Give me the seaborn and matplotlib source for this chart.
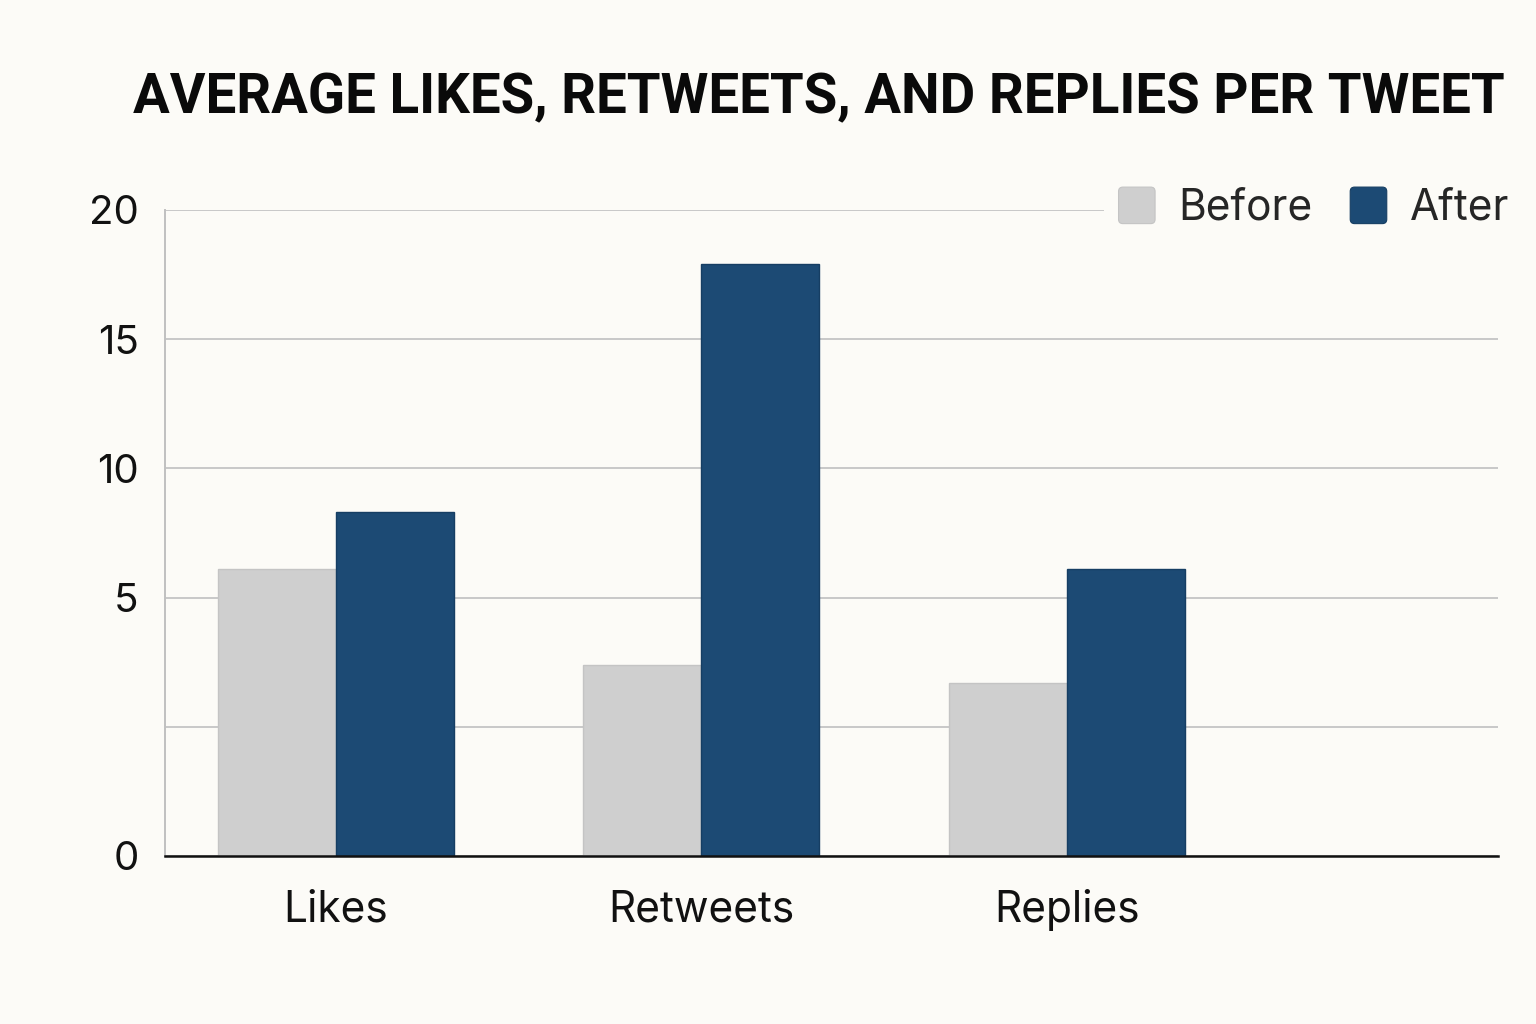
import matplotlib
matplotlib.use("Agg")
import matplotlib.pyplot as plt
import seaborn as sns
import pandas as pd
from matplotlib.patches import Patch, FancyBboxPatch
from matplotlib.legend_handler import HandlerPatch

categories = ["Likes", "Retweets", "Replies"]
before_values = [11.1, 7.4, 6.7]
after_values = [13.3, 22.9, 11.1]
series_names = ["Before", "After"]
ytick_values = [0, 5, 10, 15, 20, 25]
ytick_labels = ["0", "", "5", "10", "15", "20"]
title = "AVERAGE LIKES, RETWEETS, AND REPLIES PER TWEET"

bg = "#FCFBF7"
colors = {"Before": "#CFCFCF", "After": "#1C4A74"}
edges = {"Before": "#C4C4C4", "After": "#163E63"}

sns.set_theme(style="white")
plt.rcParams["font.family"] = ["Inter", "DejaVu Sans"]

df = pd.DataFrame({
    "category": categories * 2,
    "value": before_values + after_values,
    "series": [series_names[0]] * 3 + [series_names[1]] * 3,
})

fig = plt.figure(figsize=(15.36, 10.24), dpi=100, facecolor=bg)
ax = fig.add_axes([165 / 1536, 1 - 856 / 1024, (1498 - 165) / 1536, (856 - 210) / 1024])
ax.set_facecolor(bg)

sns.barplot(data=df, x="category", y="value", hue="series", palette=colors,
            width=0.646, gap=0, ax=ax, saturation=1, legend=False,
            edgecolor="none", linewidth=0)
n = len(categories)
for i, p in enumerate(ax.patches):
    p.set_zorder(3)
    s = series_names[i // n] if i < 2 * n else None
    if s:
        p.set_edgecolor(edges[s])
        p.set_linewidth(1.0)

ax.set_ylim(0, 25)
ax.set_xlim(-0.468, 3.18)
ax.set_yticks(ytick_values)
ax.set_yticklabels(ytick_labels)
ax.yaxis.grid(True, color="#C8C8C8", linewidth=1.4, zorder=0)
ax.set_axisbelow(True)
ax.set_xlabel("")
ax.set_ylabel("")
ax.tick_params(axis="y", length=0, pad=19, labelsize=29, labelcolor="#111111")
ax.tick_params(axis="x", length=0, pad=24, labelsize=30.5, labelcolor="#111111")

for side in ["top", "right"]:
    ax.spines[side].set_visible(False)
ax.spines["left"].set_color("#C0C0C0")
ax.spines["left"].set_linewidth(1.4)
ax.spines["bottom"].set_color("#111111")
ax.spines["bottom"].set_linewidth(1.8)
ax.spines["bottom"].set_zorder(4)


class RoundSquare(HandlerPatch):
    def create_artists(self, legend, orig_handle, xdescent, ydescent, width, height, fontsize, trans):
        size = min(width, height)
        x0 = -xdescent + (width - size) / 2
        y0 = -ydescent + (height - size) / 2
        p = FancyBboxPatch((x0, y0), size, size,
                           boxstyle="round,pad=0,rounding_size=%f" % (size * 0.12),
                           facecolor=orig_handle.get_facecolor(),
                           edgecolor=orig_handle.get_edgecolor(), linewidth=0.8,
                           transform=trans)
        return [p]


handles = [Patch(facecolor=colors[s], edgecolor=edges[s], label=s) for s in series_names]
leg = fig.legend(handles=handles, loc="center right", bbox_to_anchor=(1522 / 1536, 1 - 208 / 1024),
                 ncol=2, frameon=True, facecolor=bg, edgecolor="none", framealpha=1,
                 fontsize=30.5, handlelength=0.95, handleheight=0.95, handletextpad=0.5,
                 columnspacing=0.85, borderpad=0.3, borderaxespad=0,
                 handler_map={Patch: RoundSquare()})

t = fig.text(133 / 1536, 1 - 98 / 1024, title, ha="left", va="center",
             fontsize=39, fontweight="bold", color="#0A0A0A", family=["Roboto", "DejaVu Sans"])
fig.canvas.draw()
w = t.get_window_extent().width
t.set_fontsize(39 * 1370 / w)

fig.savefig("out.png", dpi=100, facecolor=bg)
